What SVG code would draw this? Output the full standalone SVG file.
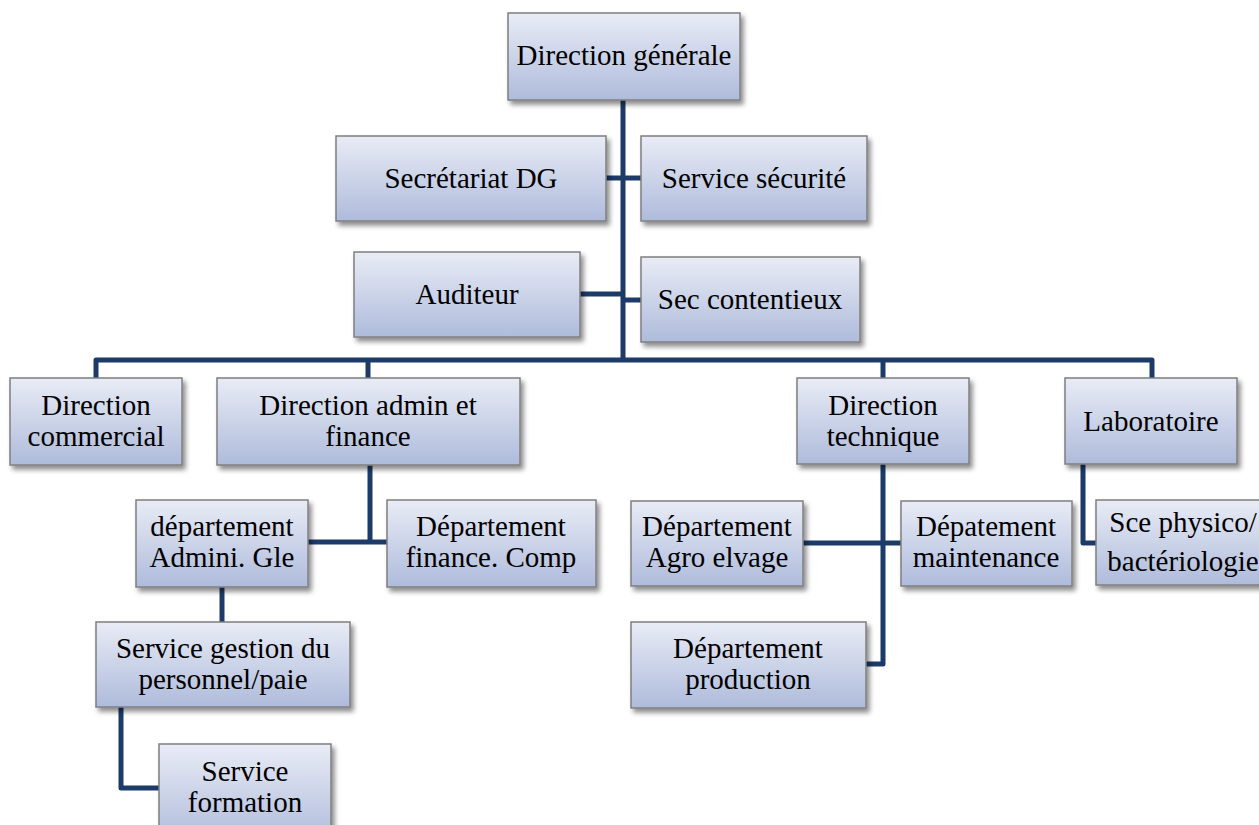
<svg xmlns="http://www.w3.org/2000/svg" width="1259" height="825" viewBox="0 0 1259 825">
<defs>
<linearGradient id="g" x1="0" y1="0" x2="0" y2="1">
<stop offset="0" stop-color="#e9ecf6"/>
<stop offset="1" stop-color="#aebbdb"/>
</linearGradient>
<filter id="sh" x="-10%" y="-10%" width="125%" height="135%">
<feGaussianBlur in="SourceAlpha" stdDeviation="2.5"/>
<feOffset dx="3" dy="4" result="b"/>
<feComponentTransfer><feFuncA type="linear" slope="0.45"/></feComponentTransfer>
<feMerge><feMergeNode/><feMergeNode in="SourceGraphic"/></feMerge>
</filter>
</defs>
<style>
.box{fill:url(#g);stroke:#7f7f7f;stroke-width:1.5;filter:url(#sh)}
.t{font-family:'Liberation Serif','Times New Roman',serif;font-size:29px;fill:#000;text-anchor:middle}
.c{fill:none;stroke:#1c3b68;stroke-width:5;stroke-linejoin:round}
</style>
<rect width="1259" height="825" fill="#fff"/>
<g id="connectors">
<path class="c" d="M623 100 V360"/>
<path class="c" d="M606 178 H641"/>
<path class="c" d="M580 294 H623"/>
<path class="c" d="M623 300 H641"/>
<path class="c" d="M96 378 V360 H1152 V378"/>
<path class="c" d="M368 360 V378"/>
<path class="c" d="M883 360 V378"/>
<path class="c" d="M370 465 V542"/>
<path class="c" d="M308 542 H387"/>
<path class="c" d="M222 587 V622"/>
<path class="c" d="M121 707 V788 H159"/>
<path class="c" d="M883 464 V664 H866"/>
<path class="c" d="M803 543 H901"/>
<path class="c" d="M1083 464 V543 H1096"/>
</g>
<g id="n-dg"><rect class="box" x="508" y="13" width="232" height="87"/><text class="t" x="624" y="65">Direction générale</text></g>
<g id="n-secdg"><rect class="box" x="336" y="136" width="270" height="85"/><text class="t" x="471" y="188">Secrétariat DG</text></g>
<g id="n-secu"><rect class="box" x="641" y="136" width="226" height="85"/><text class="t" x="754" y="188">Service sécurité</text></g>
<g id="n-aud"><rect class="box" x="354" y="252" width="226" height="85"/><text class="t" x="467" y="304">Auditeur</text></g>
<g id="n-cont"><rect class="box" x="641" y="257" width="219" height="85"/><text class="t" x="750" y="309">Sec contentieux</text></g>
<g id="n-com"><rect class="box" x="10" y="378" width="172" height="87"/><text class="t" x="96" y="415">Direction</text><text class="t" x="96" y="446">commercial</text></g>
<g id="n-daf"><rect class="box" x="217" y="378" width="303" height="87"/><text class="t" x="368" y="415">Direction admin et</text><text class="t" x="368" y="446">finance</text></g>
<g id="n-dt"><rect class="box" x="797" y="378" width="172" height="86"/><text class="t" x="883" y="415">Direction</text><text class="t" x="883" y="446">technique</text></g>
<g id="n-lab"><rect class="box" x="1065" y="378" width="172" height="86"/><text class="t" x="1151" y="431">Laboratoire</text></g>
<g id="n-dag"><rect class="box" x="136" y="500" width="172" height="87"/><text class="t" x="222" y="536">département</text><text class="t" x="222" y="567">Admini. Gle</text></g>
<g id="n-dfc"><rect class="box" x="387" y="500" width="209" height="87"/><text class="t" x="491" y="536">Département</text><text class="t" x="491" y="567">finance. Comp</text></g>
<g id="n-agro"><rect class="box" x="631" y="501" width="172" height="85"/><text class="t" x="717" y="536">Département</text><text class="t" x="717" y="567">Agro elvage</text></g>
<g id="n-maint"><rect class="box" x="901" y="501" width="171" height="85"/><text class="t" x="986" y="536">Dépatement</text><text class="t" x="986" y="567">maintenance</text></g>
<g id="n-sce"><rect class="box" x="1096" y="500" width="190" height="85"/><text class="t" x="1183" y="532">Sce physico/</text><text class="t" x="1183" y="571">bactériologie</text></g>
<g id="n-prod"><rect class="box" x="631" y="622" width="235" height="86"/><text class="t" x="748" y="658">Département</text><text class="t" x="748" y="689">production</text></g>
<g id="n-sgp"><rect class="box" x="96" y="622" width="254" height="85"/><text class="t" x="223" y="658">Service gestion du</text><text class="t" x="223" y="689">personnel/paie</text></g>
<g id="n-form"><rect class="box" x="159" y="744" width="172" height="100"/><text class="t" x="245" y="781">Service</text><text class="t" x="245" y="812">formation</text></g>
</svg>
